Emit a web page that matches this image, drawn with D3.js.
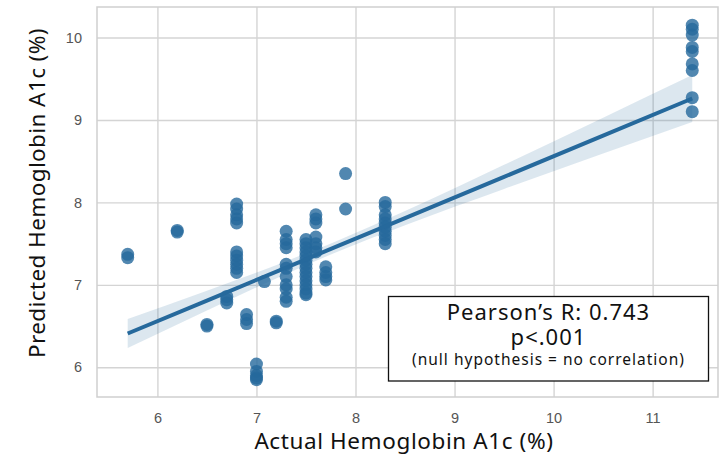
<!DOCTYPE html>
<html>
<head>
<meta charset="utf-8">
<script src="https://cdn.jsdelivr.net/npm/d3@7"></script>
<style>
  body { margin: 0; background: #fff; }
  svg { display: block; }
</style>
</head>
<body>
<svg id="chart" width="722" height="464"></svg>
<script>
// actual A1c (x) and predicted A1c (y)
var actual = [
  5.7, 5.7,
  6.2, 6.2,
  6.5, 6.5,
  6.7, 6.7, 6.7,
  6.8, 6.8, 6.8, 6.8, 6.8, 6.8, 6.8, 6.8, 6.8, 6.8, 6.8,
  6.9, 6.9, 6.9,
  7.0, 7.0, 7.0, 7.0, 7.0,
  7.08,
  7.2, 7.2,
  7.3, 7.3, 7.3, 7.3, 7.3, 7.3, 7.3, 7.3, 7.3, 7.3, 7.3,
  7.5, 7.5, 7.5, 7.5, 7.5, 7.5, 7.5, 7.5, 7.5, 7.5, 7.5, 7.5, 7.5, 7.5, 7.5,
  7.6, 7.6, 7.6, 7.6, 7.6, 7.6, 7.6,
  7.7, 7.7, 7.7, 7.7,
  7.9, 7.9,
  8.3, 8.3, 8.3, 8.3, 8.3, 8.3, 8.3, 8.3, 8.3, 8.3,
  11.4, 11.4, 11.4, 11.4, 11.4, 11.4, 11.4, 11.4, 11.4
];
var predicted = [
  7.37, 7.33,
  7.66, 7.64,
  6.50, 6.52,
  6.78, 6.82, 6.86,
  7.98, 7.92, 7.85, 7.80, 7.75, 7.40, 7.35, 7.30, 7.25, 7.20, 7.15,
  6.64, 6.58, 6.53,
  6.04, 5.95, 5.90, 5.87, 5.85,
  7.04,
  6.56, 6.54,
  7.65, 7.55, 7.50, 7.45, 7.25, 7.20, 7.10, 7.00, 6.95, 6.85, 6.80,
  7.55, 7.50, 7.45, 7.40, 7.35, 7.30, 7.25, 7.20, 7.15, 7.10, 7.05, 7.00, 6.95, 6.90, 6.88,
  7.85, 7.80, 7.75, 7.58, 7.50, 7.45, 7.40,
  7.22, 7.15, 7.10, 7.06,
  8.35, 7.92,
  8.00, 7.95, 7.85, 7.80, 7.75, 7.70, 7.65, 7.60, 7.55, 7.50,
  10.15, 10.10, 10.03, 9.88, 9.83, 9.68, 9.60, 9.27, 9.10
];

// regression line and its confidence band
var fitX = [5.7, 6.5, 7.3, 7.8, 8.5, 9.5, 10.5, 11.4];
var fitY = [6.41, 6.81, 7.21, 7.46, 7.81, 8.31, 8.81, 9.26];
var bandHalf = [0.175, 0.12, 0.077, 0.067, 0.086, 0.147, 0.218, 0.285];

var xTicks = [6, 7, 8, 9, 10, 11];
var yTicks = [6, 7, 8, 9, 10];

var statLines = ["Pearson\u2019s R: 0.743", "p<.001", "(null hypothesis = no correlation)"];

var svg = d3.select("#chart");
var plotL = 97, plotR = 718, plotT = 7, plotB = 397;

var x = d3.scaleLinear().domain([5.39, 11.66]).range([plotL, plotR]);
var y = d3.scaleLinear().domain([5.64, 10.37]).range([plotB, plotT]);

var blue = "#26699c";
var titleFont = "Noto Sans, sans-serif";

// grid + tick labels
var gx = svg.append("g").attr("transform", "translate(0," + plotB + ")")
  .call(d3.axisBottom(x).tickValues(xTicks).tickSize(-(plotB - plotT)).tickPadding(16).tickFormat(d3.format("d")));
var gy = svg.append("g").attr("transform", "translate(" + plotL + ",0)")
  .call(d3.axisLeft(y).tickValues(yTicks).tickSize(-(plotR - plotL)).tickPadding(15).tickFormat(d3.format("d")));
[gx, gy].forEach(function(g) {
  g.select(".domain").remove();
  g.selectAll(".tick line").attr("stroke", "#d4d4d4").attr("stroke-width", 1.4);
  g.selectAll(".tick text").attr("fill", "#555").attr("font-size", 14.5)
    .attr("font-family", "Liberation Sans, Arial, sans-serif");
});

svg.append("rect").attr("x", plotL).attr("y", plotT).attr("width", plotR - plotL).attr("height", plotB - plotT)
  .attr("fill", "none").attr("stroke", "#cfcfcf").attr("stroke-width", 1.5);

// confidence band
var band = d3.area()
  .x(function(d, i) { return x(fitX[i]); })
  .y0(function(d, i) { return y(fitY[i] - bandHalf[i]); })
  .y1(function(d, i) { return y(fitY[i] + bandHalf[i]); })
  .curve(d3.curveMonotoneX);
svg.append("path").datum(fitX).attr("d", band).attr("fill", blue).attr("fill-opacity", 0.16);

// points
svg.append("g").selectAll("circle").data(actual).enter().append("circle")
  .attr("cx", function(d) { return x(d); })
  .attr("cy", function(d, i) { return y(predicted[i]); })
  .attr("r", 6.5)
  .attr("fill", blue).attr("fill-opacity", 0.8);

// fit line
var line = d3.line()
  .x(function(d, i) { return x(fitX[i]); })
  .y(function(d, i) { return y(fitY[i]); });
svg.append("path").datum(fitX).attr("d", line).attr("fill", "none")
  .attr("stroke", blue).attr("stroke-width", 4);

// stats box
svg.append("rect").attr("x", 388.5).attr("y", 296.5).attr("width", 320).attr("height", 84.5)
  .attr("fill", "#fff").attr("stroke", "#111").attr("stroke-width", 1.3);
var sizes = [22, 22, 15.5];
var spacing = [1, 1, 1];
var baselines = [320, 345, 365];
statLines.forEach(function(t, i) {
  svg.append("text").attr("x", 548.5).attr("y", baselines[i]).attr("text-anchor", "middle")
    .attr("font-family", titleFont).attr("font-size", sizes[i]).attr("letter-spacing", spacing[i])
    .attr("fill", "#111").text(t);
});

// axis titles
svg.append("text").attr("x", 404).attr("y", 449).attr("text-anchor", "middle")
  .attr("font-family", titleFont).attr("font-size", 22.5).attr("letter-spacing", 0.6).attr("fill", "#111")
  .text("Actual Hemoglobin A1c (%)");
svg.append("text").attr("transform", "translate(45,193) rotate(-90)").attr("text-anchor", "middle")
  .attr("font-family", titleFont).attr("font-size", 22.5).attr("letter-spacing", 0.4).attr("fill", "#111")
  .text("Predicted Hemoglobin A1c (%)");
</script>
</body>
</html>
